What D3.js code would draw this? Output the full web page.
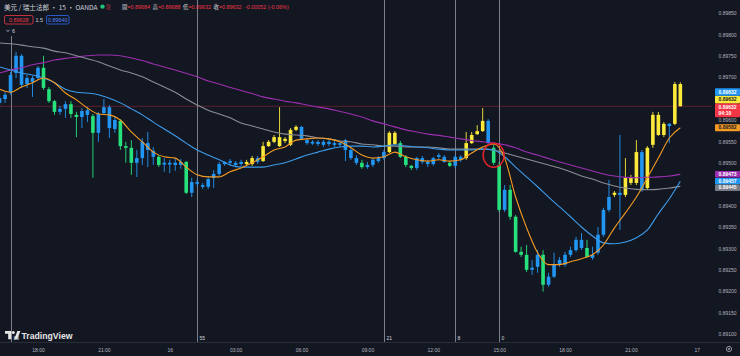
<!DOCTYPE html>
<html><head><meta charset="utf-8">
<script src="https://cdn.jsdelivr.net/npm/d3@7"></script>
<style>html,body{margin:0;padding:0;background:#131722;}svg{display:block}</style>
</head><body><svg id="c" width="740" height="356"></svg>
<script>
// ---------- DATA (USD/CHF, 15 min, OANDA) ----------
const firstCandle = "2023-05-15T16:15:00"; // open time of first visible candle
const open = [
0.89651,0.89649,0.89665,0.89710,0.89750,0.89684,0.89698,0.89698,
0.89722,0.89672,0.89644,0.89619,0.89626,0.89637,0.89612,0.89607,0.89623,0.89609,
0.89570,0.89616,0.89630,0.89579,0.89598,0.89539,0.89535,0.89500,0.89511,0.89546,
0.89528,0.89514,0.89496,0.89500,0.89495,0.89502,0.89502,0.89430,0.89455,0.89448,
0.89444,0.89465,0.89474,0.89497,0.89500,0.89500,0.89497,0.89497,0.89497,0.89511,
0.89504,0.89539,0.89549,0.89539,0.89551,0.89542,0.89577,0.89584,0.89553,0.89545,
0.89549,0.89542,0.89549,0.89542,0.89546,0.89553,0.89530,0.89511,0.89500,0.89490,
0.89495,0.89504,0.89511,0.89525,0.89544,0.89546,0.89514,0.89493,0.89488,0.89511,
0.89502,0.89497,0.89514,0.89514,0.89500,0.89493,0.89507,0.89511,0.89546,0.89567,
0.89574,0.89598,0.89535,0.89495,0.89390,0.89437,0.89374,0.89292,0.89285,0.89250,
0.89257,0.89285,0.89215,0.89234,0.89262,0.89262,0.89285,0.89296,0.89301,0.89301,
0.89278,0.89290,0.89332,0.89390,0.89425,0.89430,0.89425,0.89453,0.89453,0.89525,
0.89441,0.89542,0.89565,0.89565,0.89591,0.89591,0.89684];
const high = [
0.89659,0.89665,0.89712,0.89759,0.89754,0.89705,0.89703,0.89726,
0.89750,0.89677,0.89647,0.89633,0.89644,0.89644,0.89619,0.89628,0.89630,0.89614,
0.89619,0.89649,0.89635,0.89607,0.89602,0.89549,0.89553,0.89530,0.89558,0.89572,
0.89537,0.89518,0.89511,0.89507,0.89509,0.89509,0.89504,0.89465,0.89460,0.89453,
0.89469,0.89483,0.89502,0.89504,0.89509,0.89504,0.89507,0.89507,0.89516,0.89516,
0.89549,0.89553,0.89565,0.89630,0.89560,0.89581,0.89588,0.89586,0.89558,0.89553,
0.89553,0.89553,0.89553,0.89551,0.89551,0.89556,0.89535,0.89518,0.89507,0.89502,
0.89511,0.89516,0.89530,0.89574,0.89574,0.89551,0.89518,0.89495,0.89514,0.89516,
0.89507,0.89514,0.89523,0.89518,0.89504,0.89518,0.89518,0.89572,0.89572,0.89588,
0.89628,0.89602,0.89542,0.89502,0.89448,0.89448,0.89378,0.89304,0.89308,0.89273,
0.89296,0.89296,0.89243,0.89290,0.89280,0.89292,0.89304,0.89327,0.89336,0.89320,
0.89304,0.89350,0.89395,0.89460,0.89434,0.89565,0.89511,0.89472,0.89553,0.89530,
0.89539,0.89619,0.89619,0.89595,0.89593,0.89689,0.89688];
const low = [
0.89630,0.89640,0.89659,0.89698,0.89675,0.89675,0.89654,0.89694,
0.89670,0.89640,0.89612,0.89612,0.89605,0.89605,0.89560,0.89581,0.89595,0.89465,
0.89549,0.89612,0.89558,0.89570,0.89530,0.89500,0.89472,0.89467,0.89495,0.89490,
0.89495,0.89490,0.89479,0.89476,0.89481,0.89486,0.89427,0.89420,0.89446,0.89439,
0.89439,0.89441,0.89469,0.89493,0.89493,0.89490,0.89493,0.89493,0.89493,0.89497,
0.89502,0.89537,0.89546,0.89537,0.89546,0.89539,0.89574,0.89553,0.89542,0.89542,
0.89539,0.89537,0.89539,0.89537,0.89537,0.89504,0.89507,0.89495,0.89486,0.89486,
0.89490,0.89500,0.89507,0.89523,0.89542,0.89511,0.89490,0.89483,0.89483,0.89497,
0.89490,0.89493,0.89509,0.89500,0.89490,0.89488,0.89502,0.89507,0.89544,0.89565,
0.89572,0.89542,0.89495,0.89385,0.89385,0.89367,0.89290,0.89280,0.89245,0.89238,
0.89243,0.89199,0.89210,0.89231,0.89257,0.89257,0.89280,0.89292,0.89296,0.89278,
0.89273,0.89285,0.89327,0.89385,0.89420,0.89343,0.89420,0.89448,0.89448,0.89432,
0.89437,0.89535,0.89563,0.89560,0.89546,0.89588,0.89632];
const close = [
0.89640,0.89659,0.89705,0.89750,0.89682,0.89698,0.89689,0.89722,
0.89675,0.89644,0.89619,0.89626,0.89637,0.89614,0.89607,0.89621,0.89612,0.89570,
0.89614,0.89630,0.89581,0.89600,0.89539,0.89535,0.89500,0.89511,0.89549,0.89530,
0.89514,0.89495,0.89500,0.89496,0.89500,0.89495,0.89430,0.89455,0.89451,0.89444,
0.89462,0.89474,0.89497,0.89502,0.89504,0.89495,0.89502,0.89502,0.89511,0.89502,
0.89539,0.89549,0.89560,0.89560,0.89556,0.89577,0.89584,0.89556,0.89546,0.89549,
0.89544,0.89549,0.89544,0.89546,0.89542,0.89530,0.89511,0.89500,0.89490,0.89495,
0.89507,0.89511,0.89525,0.89570,0.89570,0.89514,0.89495,0.89488,0.89511,0.89502,
0.89497,0.89511,0.89518,0.89502,0.89493,0.89514,0.89514,0.89546,0.89565,0.89574,
0.89598,0.89546,0.89500,0.89390,0.89437,0.89374,0.89292,0.89285,0.89250,0.89255,
0.89285,0.89215,0.89234,0.89262,0.89273,0.89285,0.89296,0.89320,0.89320,0.89280,
0.89285,0.89332,0.89390,0.89420,0.89430,0.89425,0.89465,0.89465,0.89525,0.89437,
0.89535,0.89612,0.89612,0.89591,0.89586,0.89684,0.89632];
// signal state per candle: b = neutral, g = bearish trend, y = bullish trend
const signal = ("bbbbbbbb"+"gggbbggbbg"+"bbbbgggbbb"+"bgbbbbgbbb"+"bbbbbbbyyb"+"yyyyyyybbb"+
  "bbbbbbbbgb"+"bbbyygggbb"+"bbbbgbbyyy"+"ybggbggggb"+"bgbbbbbbbg"+"bbbbybyyyb"+"yyyybyy").split("");
// moving averages, sampled every 2nd candle starting at first candle
const maFast = [0.89672,0.89665,0.89677,0.89687,0.89698,0.89687,0.89663,0.89647,0.89628,0.89614,
0.89612,0.89600,0.89572,0.89549,0.89525,0.89514,0.89511,0.89490,0.89472,0.89467,
0.89467,0.89479,0.89488,0.89500,0.89514,0.89530,0.89537,0.89553,0.89556,0.89558,
0.89556,0.89549,0.89535,0.89518,0.89511,0.89514,0.89525,0.89514,0.89507,0.89504,
0.89507,0.89504,0.89507,0.89523,0.89537,0.89544,0.89511,0.89420,0.89348,0.89290,
0.89262,0.89262,0.89269,0.89276,0.89285,0.89308,0.89348,0.89383,0.89420,0.89465,
0.89511,0.89558,0.89582];
const maMid = [0.89724,0.89717,0.89710,0.89705,0.89698,0.89687,0.89672,0.89665,0.89663,0.89659,
0.89651,0.89640,0.89626,0.89612,0.89595,0.89579,0.89563,0.89546,0.89530,0.89518,
0.89507,0.89495,0.89490,0.89490,0.89490,0.89495,0.89500,0.89509,0.89518,0.89525,
0.89532,0.89537,0.89539,0.89539,0.89537,0.89539,0.89542,0.89539,0.89537,0.89535,
0.89532,0.89530,0.89530,0.89530,0.89532,0.89530,0.89514,0.89490,0.89467,0.89444,
0.89420,0.89397,0.89374,0.89350,0.89329,0.89313,0.89311,0.89315,0.89325,0.89343,
0.89381,0.89416,0.89457];
const maSlow = [0.89780,0.89778,0.89775,0.89771,0.89768,0.89761,0.89757,0.89750,0.89743,0.89736,
0.89726,0.89717,0.89710,0.89701,0.89689,0.89677,0.89665,0.89649,0.89635,0.89623,
0.89614,0.89605,0.89593,0.89586,0.89579,0.89572,0.89567,0.89565,0.89563,0.89558,
0.89556,0.89551,0.89549,0.89544,0.89542,0.89539,0.89539,0.89537,0.89537,0.89537,
0.89535,0.89532,0.89532,0.89532,0.89532,0.89530,0.89523,0.89516,0.89509,0.89502,
0.89495,0.89488,0.89479,0.89469,0.89462,0.89453,0.89446,0.89441,0.89438,0.89437,
0.89438,0.89441,0.89445];
const maLong = [0.89710,0.89717,0.89722,0.89729,0.89734,0.89740,0.89744,0.89747,0.89750,0.89752,
0.89752,0.89750,0.89745,0.89739,0.89731,0.89724,0.89717,0.89709,0.89701,0.89691,
0.89684,0.89676,0.89669,0.89662,0.89654,0.89649,0.89644,0.89640,0.89635,0.89630,
0.89626,0.89620,0.89614,0.89607,0.89598,0.89591,0.89584,0.89577,0.89572,0.89567,
0.89564,0.89560,0.89556,0.89552,0.89549,0.89546,0.89542,0.89535,0.89525,0.89518,
0.89510,0.89502,0.89495,0.89488,0.89481,0.89474,0.89469,0.89466,0.89465,0.89466,
0.89467,0.89469,0.89473];
const timeTickLabels = ["18:00","21:00","16","03:00","06:00","09:00","12:00","15:00","18:00","21:00","17"];
const priceTicks = [0.8985,0.8980,0.8975,0.8970,0.8965,0.8960,0.8955,0.8950,0.8945,0.8940,0.8935,0.8930,0.8925,0.8920,0.8915,0.8910];
const barCountIdx = [2,36,70,83,91];           // candles marked with vertical lines
const barCountLabels = ["89","55","21","8","0"];
const legendOHLC = [["開","0.89684"],["高","0.89688"],["低","0.89632"],["收","0.89632"]];
const legendChange = ["-0.00052","(-0.06%)"];
const countdown = "04:10";
const circledIdx = 90;

// ---------- STYLE ----------
const BG="#131722", TXT="#b2b5be";
const candleCol = {b:"#2196f3", g:"#27e27c", y:"#fbe93b"};
const FONT="'Liberation Sans', Arial, sans-serif";
const CJK="'Noto Sans CJK TC','Noto Sans CJK SC',sans-serif";

const svg = d3.select("#c");
svg.append("rect").attr("width",740).attr("height",356).attr("fill",BG);

const STEP = 15*60*1000;
const t0 = new Date(firstCandle);
const times = open.map((_,i)=>new Date(+t0 + i*STEP));
const x = d3.scaleTime()
  .domain([new Date(+t0 + 0.078*STEP), new Date(+t0 + 129.77*STEP)])
  .range([0, 712]);
const y = d3.scaleLinear().domain([0.8910, 0.8985]).range([334, 13]);
const bw = 3.6;

// bottom separator
svg.append("line").attr("x1",0).attr("x2",740).attr("y1",342.5).attr("y2",342.5).attr("stroke","#2a2e39");

// vertical bar-count lines
const vg = svg.append("g");
barCountIdx.forEach((idx,j)=>{
  const xx = Math.round(x(times[idx]))+0.5;
  vg.append("line").attr("x1",xx).attr("x2",xx).attr("y1", j===0?36:0).attr("y2",342)
    .attr("stroke","#8f929b").attr("stroke-width",1).attr("opacity",0.85);
  vg.append("text").attr("x",xx+2).attr("y",340).attr("font-size",5).attr("font-family",FONT)
    .attr("fill","#d1d4dc").text(barCountLabels[j]);
});

// current price line
svg.append("line").attr("x1",0).attr("x2",712)
  .attr("y1",y(close[close.length-1])).attr("y2",y(close[close.length-1]))
  .attr("stroke","#f23645").attr("opacity",0.32).attr("stroke-width",1);

// candles
const cg = svg.append("g");
open.forEach((o,i)=>{
  const c = close[i], col = candleCol[signal[i]];
  const cx = x(times[i]);
  cg.append("line").attr("x1",cx).attr("x2",cx).attr("y1",y(high[i])).attr("y2",y(low[i]))
    .attr("stroke",col).attr("stroke-width",0.9);
  const top = y(Math.max(o,c)), bot = y(Math.min(o,c));
  cg.append("rect").attr("x",cx-bw/2).attr("width",bw).attr("y",top).attr("height",Math.max(1,bot-top)).attr("fill",col);
});

// moving averages
const maDefs = [[maLong,"#9c2fb0"],[maSlow,"#8a8d93"],[maMid,"#3d9be9"],[maFast,"#f59b23"]];
const line = d3.line().x((d,j)=>x(times[2*j])).y(d=>y(d)).curve(d3.curveMonotoneX);
maDefs.forEach(([arr,col])=>{
  svg.append("path").attr("d",line(arr)).attr("fill","none").attr("stroke",col).attr("stroke-width",1.1);
});

// red circle annotation
svg.append("ellipse").attr("cx",x(times[circledIdx]))
  .attr("cy",y((open[circledIdx]+close[circledIdx])/2)).attr("rx",10.5).attr("ry",12)
  .attr("fill","none").attr("stroke","#e8232b").attr("stroke-width",1.4);

// time axis
const tickTimes = d3.timeHour.every(3).range(new Date(2023,4,15,18), new Date(2023,4,17,1));
const xAxis = d3.axisBottom(x).tickValues(tickTimes).tickFormat((d,i)=>timeTickLabels[i]).tickSize(0);
const xa = svg.append("g").attr("transform","translate(0,345)").call(xAxis);
xa.select(".domain").remove();
xa.selectAll("text").attr("font-size",5).attr("font-family",FONT).attr("fill",TXT).attr("dy","0.71em");

// gear icon
svg.append("circle").attr("cx",729).attr("cy",349).attr("r",2.6).attr("fill","none").attr("stroke",TXT).attr("stroke-width",0.8);
svg.append("circle").attr("cx",729).attr("cy",349).attr("r",0.9).attr("fill",TXT);

// price tags
const last = close[close.length-1];
const TH = 7.5;
const tags = [];
const yl = y(last);
tags.push({top:yl-3, h:14, bg:"#f23645", fg:"#ffffff", lines:[d3.format(".5f")(last), countdown]});
tags.push({top:yl-3-TH, h:TH, bg:"#fbe93b", fg:"#131722", lines:[d3.format(".5f")(close[close.length-1])]});
tags.push({top:yl-3-2*TH, h:TH, bg:"#2196f3", fg:"#ffffff", lines:[d3.format(".5f")(last)]});
tags.push({top:y(maFast[maFast.length-1])-3.5, h:7, bg:"#f59b23", fg:"#131722", lines:[d3.format(".5f")(maFast[maFast.length-1])]});
let prevBottom = -1;
[[maLong,"#9c2fb0"],[maMid,"#2196f3"],[maSlow,"#787b86"]].forEach(([arr,col])=>{
  const v = arr[arr.length-1];
  let top = Math.max(y(v)-3.25, prevBottom);
  prevBottom = top+6.5;
  tags.push({top, h:6.5, bg:col, fg:"#ffffff", lines:[d3.format(".5f")(v)]});
});

// price axis labels (hidden where a tag sits)
const visibleTicks = priceTicks.filter(p=>!tags.some(t=>y(p)>t.top-1.5 && y(p)<t.top+t.h+1.5));
const yAxis = d3.axisRight(y).tickValues(visibleTicks).tickFormat(d3.format(".5f")).tickSize(0);
const ya = svg.append("g").attr("transform","translate(716,0)").call(yAxis);
ya.select(".domain").remove();
ya.selectAll("text").attr("font-size",5).attr("font-family",FONT).attr("fill",TXT).attr("x",2.5);

const tg = svg.append("g");
tags.forEach(t=>{
  tg.append("rect").attr("x",715).attr("y",t.top).attr("width",25).attr("height",t.h).attr("fill",t.bg).attr("rx",0.8);
  t.lines.forEach((s,k)=>{
    tg.append("text").attr("x",718.5).attr("y",t.top+ (t.lines.length>1? 3.6+k*6.6 : t.h/2)).attr("dy","0.35em")
      .attr("font-size",5).attr("font-family",FONT).attr("font-weight","bold").attr("fill",t.fg).text(s);
  });
});

// legend
svg.append("text").attr("x",4).attr("y",9.6).attr("font-size",6.6).attr("font-family",CJK).attr("fill","#d1d4dc")
  .text("美元 / 瑞士法郎 · 15 · OANDA");
svg.append("circle").attr("cx",102.5).attr("cy",6.6).attr("r",2.2).attr("fill","#22c47a");
svg.append("path").attr("d","M106.5,5 q1,-1 2,0 t2,0 M106.5,7 q1,-1 2,0 t2,0 M106.5,9 q1,-1 2,0 t2,0")
  .attr("fill","none").attr("stroke","#f23645").attr("stroke-width",0.7);
const lgX = [122,152.5,183,213.5];
legendOHLC.forEach(([lab,val],i)=>{
  const t = svg.append("text").attr("x",lgX[i]).attr("y",9.4).attr("font-size",5.4).attr("font-family",CJK);
  t.append("tspan").attr("fill","#d1d4dc").text(lab);
  t.append("tspan").attr("fill","#f23645").attr("font-family",FONT).text("="+val);
});
svg.append("text").attr("x",245).attr("y",9.4).attr("font-size",5.4).attr("font-family",FONT).attr("fill","#f23645").text(legendChange[0]);
svg.append("text").attr("x",268).attr("y",9.4).attr("font-size",5.4).attr("font-family",FONT).attr("fill","#f23645").text(legendChange[1]);

// second legend row (bands)
svg.append("rect").attr("x",4.5).attr("y",15.5).attr("width",28.5).attr("height",8.5).attr("rx",1.5)
  .attr("fill","none").attr("stroke","#f23645").attr("stroke-width",0.8);
svg.append("text").attr("x",18.7).attr("y",19.8).attr("dy","0.35em").attr("text-anchor","middle").attr("font-size",5.4)
  .attr("font-family",FONT).attr("fill","#f23645").text("0.89628");
svg.append("text").attr("x",35.5).attr("y",19.8).attr("dy","0.35em").attr("font-size",5.4)
  .attr("font-family",FONT).attr("fill","#d1d4dc").text("1.5");
svg.append("rect").attr("x",46.5).attr("y",15.5).attr("width",22.5).attr("height",8.5).attr("rx",1.5)
  .attr("fill","none").attr("stroke","#2f6bf0").attr("stroke-width",0.8);
svg.append("text").attr("x",57.7).attr("y",19.8).attr("dy","0.35em").attr("text-anchor","middle").attr("font-size",5.4)
  .attr("font-family",FONT).attr("fill","#4f86f7").text("0.89640");
// third row
svg.append("path").attr("d","M6.3,29.8 L7.9,31.6 L9.5,29.8").attr("fill","none").attr("stroke","#d1d4dc").attr("stroke-width",0.7);
svg.append("text").attr("x",12).attr("y",30.8).attr("dy","0.35em").attr("font-size",5.4).attr("font-family",FONT).attr("fill","#d1d4dc").text("6");

// TradingView logo
const lg = svg.append("g").attr("fill","#e6e6e6");
lg.append("path").attr("d","M5,331 H11.2 V339.2 H8.2 V333.8 H5 Z");
lg.append("circle").attr("cx",13.3).attr("cy",332.5).attr("r",1.5);
lg.append("path").attr("d","M14.2,339.2 L17.4,331 H20.4 L17.2,339.2 Z");
svg.append("text").attr("x",21.5).attr("y",339.3).attr("font-size",8.7).attr("font-weight","bold")
  .attr("font-family",FONT).attr("fill","#e6e6e6").text("TradingView");
</script></body></html>
